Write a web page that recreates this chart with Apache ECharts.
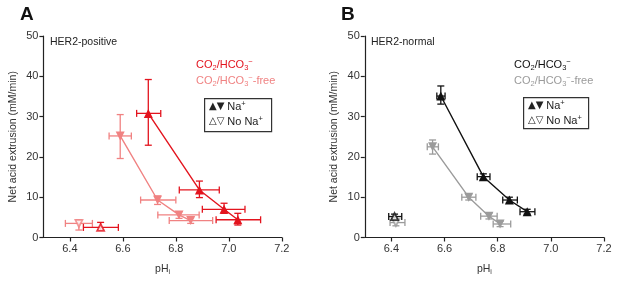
<!DOCTYPE html>
<html>
<head>
<meta charset="utf-8">
<script src="https://cdn.jsdelivr.net/npm/echarts@6/dist/echarts.min.js"></script>
<style>
  html, body { margin: 0; padding: 0; background: #fff; }
  #chart { width: 617px; height: 281px; }
</style>
</head>
<body>
<div id="chart"></div>
<script>
// x ticks (pHi) and y ticks
const phTicks = [6.4, 6.6, 6.8, 7.0, 7.2]
const rateTicks = [0, 10, 20, 30, 40, 50]

// Panel A, HER2-positive, CO2/HCO3- with Na+
const phAbic = [6.696, 6.889, 6.982, 7.034]
const phAbicLo = [6.652, 6.813, 6.900, 6.952]
const phAbicHi = [6.743, 6.964, 7.061, 7.120]
const rateAbic = [30.8, 11.8, 7.0, 4.4]
const rateAbicLo = [22.9, 9.9, 6.0, 3.1]
const rateAbicHi = [39.2, 14.0, 8.5, 6.0]
// Panel A, CO2/HCO3--free with Na+
const phAfree = [6.590, 6.731, 6.812, 6.856]
const phAfreeLo = [6.548, 6.667, 6.732, 6.775]
const phAfreeHi = [6.632, 6.800, 6.888, 6.939]
const rateAfree = [25.2, 9.3, 5.6, 4.2]
const rateAfreeLo = [19.6, 8.2, 4.75, 3.5]
const rateAfreeHi = [30.5, 10.3, 6.4, 4.9]
// Panel A, no Na+ : [pH, pHlo, pHhi, rate, ratelo, ratehi]
const noNaAbic = [6.516, 6.451, 6.583, 2.5, 1.85, 3.75]
const noNaAfree = [6.434, 6.383, 6.485, 3.5, 1.85, 4.35]

// Panel B, HER2-normal, CO2/HCO3- with Na+
const phBbic = [6.586, 6.746, 6.844, 6.911]
const phBbicLo = [6.571, 6.723, 6.819, 6.884]
const phBbicHi = [6.602, 6.771, 6.874, 6.940]
const rateBbic = [35.1, 15.1, 9.3, 6.4]
const rateBbicLo = [33.1, 14.4, 8.6, 5.8]
const rateBbicHi = [37.6, 15.8, 10.0, 7.0]
// Panel B, CO2/HCO3--free with Na+
const phBfree = [6.555, 6.691, 6.767, 6.809]
const phBfreeLo = [6.535, 6.665, 6.736, 6.783]
const phBfreeHi = [6.577, 6.718, 6.798, 6.849]
const rateBfree = [22.5, 10.0, 5.3, 3.35]
const rateBfreeLo = [20.7, 9.3, 4.6, 2.7]
const rateBfreeHi = [24.2, 10.7, 6.0, 4.0]
// Panel B, no Na+
const noNaBbic = [6.412, 6.390, 6.439, 5.2, 4.6, 5.8]
const noNaBfree = [6.417, 6.395, 6.451, 3.7, 2.9, 4.5]

const RED = '#e3141e'
const PINK = '#f08282'
const BLACK = '#111111'
const GREY = '#9b9b9b'
const FONT = 'Liberation Sans, Arial, sans-serif'

function rows (ph, lo, hi, r, rlo, rhi) {
  return ph.map((v, i) => [v, r[i], lo[i], hi[i], rlo[i], rhi[i]])
}
function one (p) {
  return [[p[0], p[3], p[1], p[2], p[4], p[5]]]
}

function errorBars (data, color, idx) {
  return {
    type: 'custom',
    xAxisIndex: idx,
    yAxisIndex: idx,
    z: 1,
    silent: true,
    data: data,
    renderItem (params, api) {
      const x = api.value(0), y = api.value(1)
      const a = api.coord([api.value(2), y])
      const b = api.coord([api.value(3), y])
      const c = api.coord([x, api.value(4)])
      const d = api.coord([x, api.value(5)])
      const cap = 3.5
      const st = { stroke: color, lineWidth: 1.3 }
      const ln = (x1, y1, x2, y2) => ({ type: 'line', shape: { x1, y1, x2, y2 }, style: st })
      return {
        type: 'group',
        children: [
          ln(a[0], a[1], b[0], b[1]),
          ln(a[0], a[1] - cap, a[0], a[1] + cap),
          ln(b[0], b[1] - cap, b[0], b[1] + cap),
          ln(c[0], c[1], d[0], d[1]),
          ln(c[0] - cap, c[1], c[0] + cap, c[1]),
          ln(d[0] - cap, d[1], d[0] + cap, d[1])
        ]
      }
    }
  }
}

function lineSeries (data, color, idx, down) {
  return {
    type: 'line',
    xAxisIndex: idx,
    yAxisIndex: idx,
    z: 3,
    data: data.map(d => [d[0], d[1]]),
    symbol: 'triangle',
    symbolSize: 9,
    symbolRotate: down ? 180 : 0,
    lineStyle: { color: color, width: 1.4 },
    itemStyle: { color: color, borderWidth: 0 }
  }
}

function openPoint (data, color, idx, down) {
  return {
    type: 'scatter',
    xAxisIndex: idx,
    yAxisIndex: idx,
    z: 3,
    data: data.map(d => [d[0], d[1]]),
    symbol: 'triangle',
    symbolSize: 7,
    symbolRotate: down ? 180 : 0,
    itemStyle: { color: '#fff', borderColor: color, borderWidth: 1.8 }
  }
}

function xAxis (idx) {
  return {
    type: 'value',
    gridIndex: idx,
    min: 6.3,
    max: 7.2,
    name: '{m|pH}{s|i}',
    nameLocation: 'middle',
    nameGap: 25,
    nameTextStyle: {
      fontFamily: FONT,
      color: '#333',
      rich: {
        m: { fontSize: 10.5, fontFamily: FONT, color: '#333', lineHeight: 13 },
        s: { fontSize: 7, fontFamily: FONT, color: '#333', verticalAlign: 'bottom', lineHeight: 8 }
      }
    },
    splitLine: { show: false },
    axisLine: { show: true, onZero: false, lineStyle: { color: '#222', width: 1.2 } },
    axisTick: { show: true, length: 4, customValues: phTicks, lineStyle: { color: '#222', width: 1.2 } },
    axisLabel: {
      customValues: phTicks,
      formatter: v => v.toFixed(1),
      fontSize: 11,
      fontFamily: FONT,
      color: '#333',
      margin: 6
    }
  }
}

function yAxis (idx) {
  return {
    type: 'value',
    gridIndex: idx,
    min: 0,
    max: 50,
    interval: 10,
    name: 'Net acid extrusion (mM/min)',
    nameLocation: 'middle',
    nameGap: 25,
    nameTextStyle: { fontSize: 10.5, fontFamily: FONT, color: '#333' },
    splitLine: { show: false },
    axisLine: { show: true, lineStyle: { color: '#222', width: 1.2 } },
    axisTick: { show: true, length: 4, lineStyle: { color: '#222', width: 1.2 } },
    axisLabel: {
      formatter: v => rateTicks.includes(v) ? String(v) : '',
      fontSize: 11,
      fontFamily: FONT,
      color: '#333',
      margin: 5
    }
  }
}

const subRich = (color) => ({
  n: { fontSize: 11, fontFamily: FONT, color: color, lineHeight: 14 },
  s: { fontSize: 7.5, fontFamily: FONT, color: color, verticalAlign: 'bottom', lineHeight: 9 },
  p: { fontSize: 7.5, fontFamily: FONT, color: color, verticalAlign: 'top', lineHeight: 9 }
})

function txt (x, y, text, color, rich, size, weight) {
  return {
    type: 'text',
    left: x,
    top: y,
    style: {
      text: text,
      fill: color,
      fontSize: size || 10.5,
      fontWeight: weight || 'normal',
      fontFamily: FONT,
      rich: rich
    }
  }
}

function legendBox (x, y, w, h, c1, c2) {
  const rich = {
    a: { fontSize: 10, fontFamily: 'DejaVu Sans', color: c1, lineHeight: 13 },
    b: { fontSize: 10, fontFamily: 'DejaVu Sans', color: c2, lineHeight: 13 },
    ao: { fontSize: 10, fontFamily: 'DejaVu Sans', fontWeight: 'bold', color: c1, lineHeight: 13 },
    bo: { fontSize: 10, fontFamily: 'DejaVu Sans', fontWeight: 'bold', color: c2, lineHeight: 13 },
    n: { fontSize: 11, fontFamily: FONT, color: '#222', lineHeight: 13 },
    p: { fontSize: 7.5, fontFamily: FONT, color: '#222', verticalAlign: 'top', lineHeight: 8 }
  }
  return [
    {
      type: 'rect',
      left: x,
      top: y,
      shape: { width: w, height: h },
      style: { fill: '#fff', stroke: '#333', lineWidth: 1.2 }
    },
    txt(x + 5, y + 2, '{a|▲}{b|▼} {n|Na}{p|+}', '#222', rich),
    txt(x + 5, y + 17, '{ao|△}{bo|▽} {n|No Na}{p|+}', '#222', rich)
  ]
}

const chart = echarts.init(document.getElementById('chart'), null, { renderer: 'canvas' })

const option = {
  animation: false,
  backgroundColor: '#fff',
  grid: [
    { left: 43.4, width: 238.4, top: 36, height: 201.5 },
    { left: 364.8, width: 239.2, top: 36, height: 201.5 }
  ],
  xAxis: [xAxis(0), xAxis(1)],
  yAxis: [yAxis(0), yAxis(1)],
  graphic: [
    txt(20, 5, 'A', '#111', null, 19, 'bold'),
    txt(341, 5, 'B', '#111', null, 19, 'bold'),
    txt(50, 37, 'HER2-positive', '#222'),
    txt(371, 37, 'HER2-normal', '#222'),
    txt(196, 58, '{n|CO}{s|2}{n|/HCO}{s|3}{p|−}', RED, subRich(RED)),
    txt(196, 74, '{n|CO}{s|2}{n|/HCO}{s|3}{p|−}{n|-free}', PINK, subRich(PINK)),
    txt(514, 58, '{n|CO}{s|2}{n|/HCO}{s|3}{p|−}', BLACK, subRich(BLACK)),
    txt(514, 74, '{n|CO}{s|2}{n|/HCO}{s|3}{p|−}{n|-free}', GREY, subRich(GREY))
  ].concat(legendBox(204, 98, 67, 33, RED, PINK))
    .concat(legendBox(523, 97, 65, 31, BLACK, GREY)),
  series: [
    errorBars(rows(phAfree, phAfreeLo, phAfreeHi, rateAfree, rateAfreeLo, rateAfreeHi), PINK, 0),
    errorBars(one(noNaAfree), PINK, 0),
    errorBars(rows(phAbic, phAbicLo, phAbicHi, rateAbic, rateAbicLo, rateAbicHi), RED, 0),
    errorBars(one(noNaAbic), RED, 0),
    lineSeries(rows(phAfree, phAfreeLo, phAfreeHi, rateAfree, rateAfreeLo, rateAfreeHi), PINK, 0, true),
    lineSeries(rows(phAbic, phAbicLo, phAbicHi, rateAbic, rateAbicLo, rateAbicHi), RED, 0, false),
    openPoint(one(noNaAfree), PINK, 0, true),
    openPoint(one(noNaAbic), RED, 0, false),

    errorBars(rows(phBfree, phBfreeLo, phBfreeHi, rateBfree, rateBfreeLo, rateBfreeHi), GREY, 1),
    errorBars(one(noNaBfree), GREY, 1),
    errorBars(rows(phBbic, phBbicLo, phBbicHi, rateBbic, rateBbicLo, rateBbicHi), BLACK, 1),
    errorBars(one(noNaBbic), BLACK, 1),
    lineSeries(rows(phBfree, phBfreeLo, phBfreeHi, rateBfree, rateBfreeLo, rateBfreeHi), GREY, 1, true),
    lineSeries(rows(phBbic, phBbicLo, phBbicHi, rateBbic, rateBbicLo, rateBbicHi), BLACK, 1, false),
    openPoint(one(noNaBfree), GREY, 1, true),
    openPoint(one(noNaBbic), BLACK, 1, false)
  ]
}

chart.setOption(option)
</script>
</body>
</html>
